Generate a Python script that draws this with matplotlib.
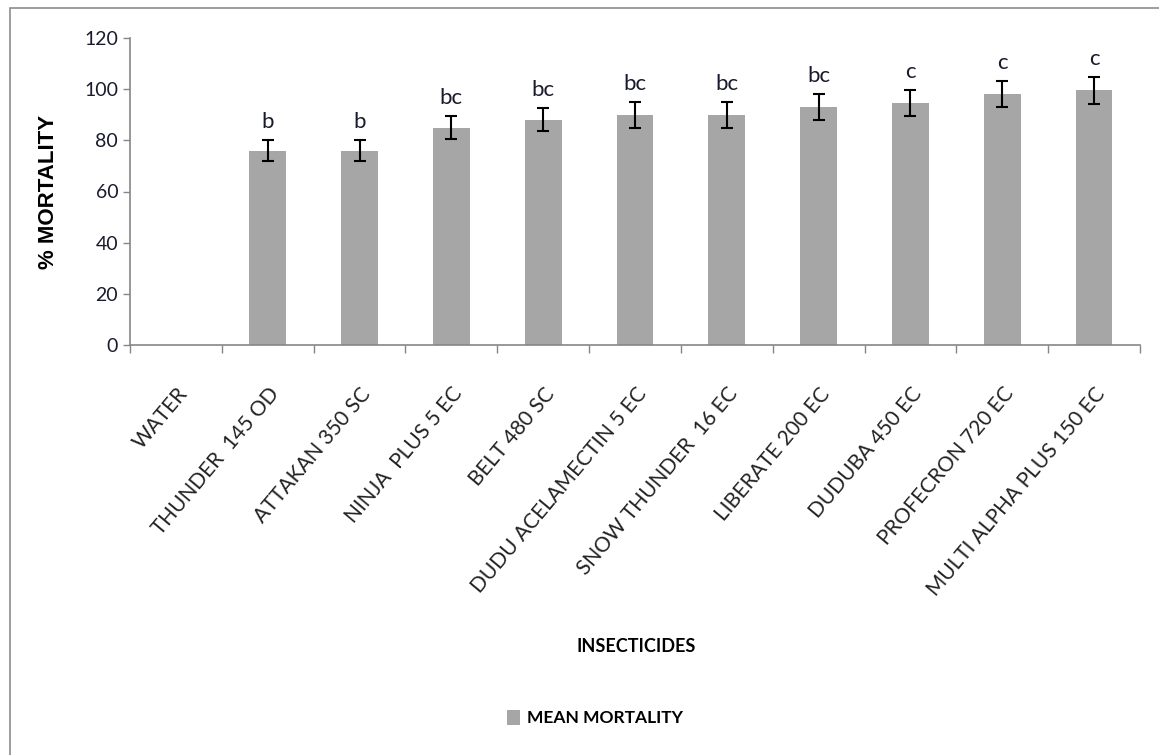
import matplotlib
matplotlib.use("Agg")
import matplotlib.pyplot as plt
import numpy as np
from matplotlib.patches import Rectangle, Patch

# === Data ===
insecticides = ["WATER", "THUNDER  145 OD", "ATTAKAN 350 SC", "NINJA  PLUS 5 EC",
                "BELT 480 SC", "DUDU ACELAMECTIN 5 EC", "SNOW THUNDER  16 EC",
                "LIBERATE 200 EC", "DUDUBA 450 EC", "PROFECRON 720 EC",
                "MULTI ALPHA PLUS 150 EC"]
mean_mortality = [0, 76, 76, 85, 88, 90, 90, 93, 94.5, 98, 99.5]
std_err = [0, 4, 4, 4.5, 4.5, 5, 5, 5, 5, 5, 5.3]
letters = ["", "b", "b", "bc", "bc", "bc", "bc", "bc", "c", "c", "c"]

FONT = "Lato"
TXT = "#1a1a2e"
AXC = "#868686"

fig = plt.figure(figsize=(11.59, 7.55), dpi=100)
ax = fig.add_axes([130 / 1159, 1 - 345 / 755, 1010 / 1159, 307 / 755])

# outer chart frame
fig.add_artist(Rectangle((10 / 1159, -0.05), 1.2, 1 - 8 / 755 + 0.05,
                         transform=fig.transFigure, fill=False,
                         edgecolor="#8c8c8c", linewidth=1.2))

x = np.arange(len(insecticides))
heights = [v if v > 0 else np.nan for v in mean_mortality]
errs = [e if e > 0 else np.nan for e in std_err]
ax.bar(x, heights, width=0.4, color="#a6a6a6", zorder=2)
ax.errorbar(x, heights, yerr=errs, fmt="none", ecolor="black",
            elinewidth=1.5, capsize=4, capthick=1.5, zorder=3)

for xi, v, e, lab in zip(x, mean_mortality, std_err, letters):
    if lab:
        ax.annotate(lab, (xi, v + e), xytext=(0, 6), textcoords="offset points",
                    ha="center", va="bottom", fontsize=16, family=FONT, color=TXT)

ax.set_xlim(-0.5, len(insecticides) - 0.5)
ax.set_ylim(0, 120)
ax.set_yticks(np.arange(0, 121, 20))
ax.tick_params(axis="y", labelsize=14, length=5, width=1, color=AXC, labelcolor=TXT)
for t in ax.get_yticklabels():
    t.set_family(FONT)

ax.set_xticks(np.arange(-0.5, len(insecticides), 1))
ax.set_xticklabels([])
ax.tick_params(axis="x", length=6, width=1, color=AXC)
ax.set_xticks(x, minor=True)
ax.set_xticklabels(insecticides, minor=True, rotation=50, ha="right",
                   rotation_mode="anchor", fontsize=15, family=FONT, color="#222222")
ax.tick_params(axis="x", which="minor", length=0, pad=28)

for side in ["top", "right"]:
    ax.spines[side].set_visible(False)
for side in ["left", "bottom"]:
    ax.spines[side].set_color(AXC)
    ax.spines[side].set_linewidth(1.2)

ax.set_ylabel("% MORTALITY", fontsize=16, fontweight="bold", family="Liberation Sans",
              color="black", labelpad=18)
fig.text(636 / 1159, 1 - 646 / 755, "INSECTICIDES", ha="center", va="center",
         fontsize=13, fontweight="bold", family=FONT, color="black")

handle = Patch(facecolor="#a6a6a6", edgecolor="none", label="MEAN MORTALITY")
leg = fig.legend(handles=[handle], loc="center", bbox_to_anchor=(595 / 1159, 1 - 718 / 755),
                 frameon=False, handlelength=0.8, handleheight=1.0, handletextpad=0.4,
                 prop={"family": FONT, "weight": "bold", "size": 12.5})

fig.savefig("out.png", dpi=100, facecolor="white")
